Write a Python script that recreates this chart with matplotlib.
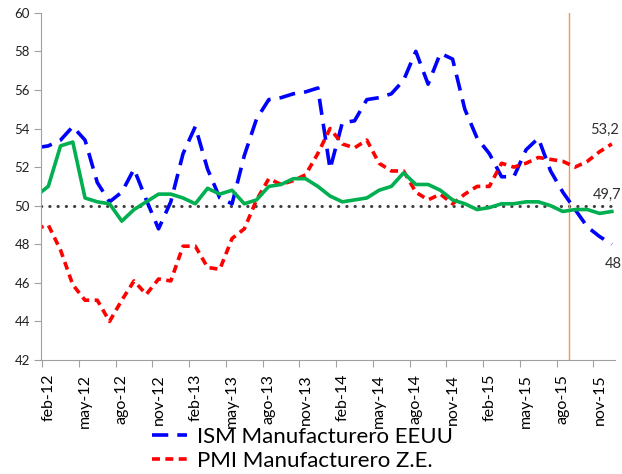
import numpy as np
import matplotlib
matplotlib.use("Agg")
import matplotlib.pyplot as plt

plt.rcParams['font.family'] = ['Lato', 'DejaVu Sans']

# meses ene-12 .. dic-15
meses = ['ene', 'feb', 'mar', 'abr', 'may', 'jun', 'jul', 'ago', 'sep', 'oct', 'nov', 'dic']
fechas = [m + '-' + str(a) for a in range(12, 16) for m in meses]

ism_eeuu = [53.0, 53.1, 53.4, 54.1, 53.4, 51.2, 50.2, 50.7, 51.9, 50.3, 48.8, 50.2,
            52.7, 54.1, 51.9, 50.4, 50.1, 52.6, 54.5, 55.5, 55.6, 55.8, 55.9, 56.1,
            51.9, 54.3, 54.4, 55.5, 55.6, 55.8, 56.5, 58.0, 56.3, 57.9, 57.6, 55.0,
            53.5, 52.7, 51.5, 51.5, 52.9, 53.5, 51.8, 50.7, 49.8, 48.9, 48.4, 48.0]

pmi_ze = [48.8, 49.0, 47.7, 45.9, 45.1, 45.1, 44.0, 45.1, 46.1, 45.4, 46.2, 46.1,
          47.9, 47.9, 46.8, 46.7, 48.3, 48.8, 50.3, 51.4, 51.1, 51.3, 51.6, 52.7,
          54.0, 53.2, 53.0, 53.4, 52.2, 51.8, 51.8, 50.7, 50.3, 50.6, 50.1, 50.6,
          51.0, 51.0, 52.2, 52.0, 52.2, 52.5, 52.4, 52.3, 52.0, 52.3, 52.8, 53.2]

pmi_china = [50.5, 51.0, 53.1, 53.3, 50.4, 50.2, 50.1, 49.2, 49.8, 50.2, 50.6, 50.6,
             50.4, 50.1, 50.9, 50.6, 50.8, 50.1, 50.3, 51.0, 51.1, 51.4, 51.4, 51.0,
             50.5, 50.2, 50.3, 50.4, 50.8, 51.0, 51.7, 51.1, 51.1, 50.8, 50.3, 50.1,
             49.8, 49.9, 50.1, 50.1, 50.2, 50.2, 50.0, 49.7, 49.8, 49.8, 49.6, 49.7]

etiquetas = fechas[1::3]

x = np.arange(len(fechas))

fig = plt.figure(figsize=(6.22, 4.74), dpi=100)
ax = fig.add_axes([0.066, 0.2405, 0.923, 0.7325])

ax.axhline(50, color='#404040', lw=2.2, ls=(0, (0.1, 2.6)), dash_capstyle='round', zorder=1)
ax.axvline(43.5, color='#F79646', lw=1.0, zorder=1)

l_ism, = ax.plot(x, ism_eeuu, color='#0000FF', lw=2.6, ls=(0, (4.5, 2.5)), label='ISM Manufacturero EEUU')
l_pmi, = ax.plot(x, pmi_ze, color='#FF0000', lw=2.6, ls=(0, (2.2, 1.5)), label='PMI Manufacturero Z.E.')
ax.plot(x, pmi_china, color='#00B050', lw=2.6)

# etiquetas finales
gris = '#303030'
ax.annotate('53,2', (x[-1], pmi_ze[-1]), xytext=(-7, 14), textcoords='offset pixels',
            ha='center', va='center', fontsize=10.5, color=gris)
ax.annotate('49,7', (x[-1], pmi_china[-1]), xytext=(-5, 17), textcoords='offset pixels',
            ha='center', va='center', fontsize=10.5, color=gris)
ax.annotate('48', (x[-1], ism_eeuu[-1]), xytext=(1, -20), textcoords='offset pixels',
            ha='center', va='center', fontsize=10.5, color=gris)

ax.set_xlim(0.41, 47.27)
ax.set_ylim(42, 60)
ax.set_yticks(np.arange(42, 61, 2))
ax.tick_params(axis='y', labelsize=9.5, colors='#A0A0A0', labelcolor='#202020', length=5, pad=3)

ax.set_xticks(np.arange(0.5, 46, 3))
ax.set_xticklabels([])
ax.set_xticks(np.arange(1.0, 47, 3), minor=True)
ax.set_xticklabels(etiquetas, minor=True, rotation=90)
ax.tick_params(axis='x', which='major', colors='#A0A0A0', length=5)
ax.tick_params(axis='x', which='minor', length=0, labelsize=11.5, labelcolor='#000000', pad=10)

for s in ['top', 'right']:
    ax.spines[s].set_visible(False)
for s in ['left', 'bottom']:
    ax.spines[s].set_color('#A0A0A0')

fig.legend(handles=[l_ism, l_pmi], loc='upper left', bbox_to_anchor=(0.244, 0.1),
           frameon=False, fontsize=16, handlelength=1.6, handletextpad=0.45,
           labelspacing=0.18, borderpad=0, borderaxespad=0)

fig.savefig('out.png', dpi=100)
